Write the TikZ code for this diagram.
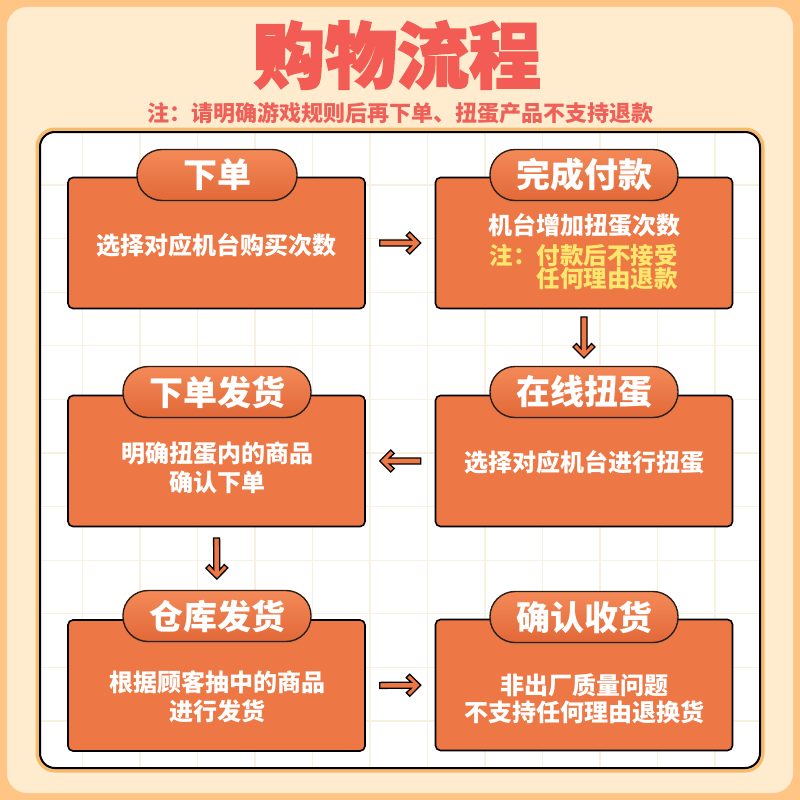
\documentclass[tikz,border=0pt]{standalone}
\usepackage{fontspec}
\newfontfamily\cjk{Noto Sans CJK SC}
\newfontfamily\cjktitle{Noto Sans CJK SC}[BoldFeatures={FakeBold=2.5}]
\usepackage{tikz}
\usetikzlibrary{shadows, positioning}

\definecolor{outerbg}{RGB}{255,197,133}
\definecolor{cream}{RGB}{255,236,206}
\definecolor{ring}{RGB}{246,186,110}
\definecolor{gridline}{RGB}{247,241,226}
\definecolor{boxor}{RGB}{237,120,69}
\definecolor{tabtop}{RGB}{244,138,88}
\definecolor{tabbot}{RGB}{226,104,56}
\definecolor{tabline}{RGB}{45,30,22}
\definecolor{titlered}{RGB}{242,92,84}
\definecolor{notered}{RGB}{238,96,88}
\definecolor{noteyellow}{RGB}{255,231,110}

\begin{document}
\begin{tikzpicture}[x=1pt, y=-1pt,
    stepbox/.style={rectangle, draw=black, line width=1.6pt, fill=boxor, rounded corners=5pt,
        minimum width=297pt, minimum height=131pt, inner sep=0pt},
    tab/.style={rectangle, draw=tabline, line width=1.4pt, top color=tabtop, bottom color=tabbot,
        rounded corners=25pt, minimum height=51pt, inner sep=0pt, text=white,
        font=\cjk\bfseries\fontsize{34}{34}\selectfont,
        drop shadow={shadow xshift=0pt, shadow yshift=-2pt, opacity=0.2}},
    body/.style={text=white, align=center, inner sep=0pt,
        font=\cjk\bfseries\fontsize{24}{29}\selectfont},
    flowarrow/.pic={
        \filldraw[fill=boxor, draw=black, line width=1.3pt, line join=miter]
            (20.5pt,0pt) -- (9.5pt,11pt) -- (6pt,7.5pt) -- (11pt,3pt) -- (-20.5pt,3pt)
            -- (-20.5pt,-3pt) -- (11pt,-3pt) -- (6pt,-7.5pt) -- (9.5pt,-11pt) -- cycle;
    },
    flow/.style={pos=0.5, sloped, allow upside down}
]
    \useasboundingbox (0,0) rectangle (800,800);

    % background and panel
    \fill[outerbg] (0,0) rectangle (800,800);
    \fill[cream, rounded corners=20pt] (7,7) rectangle (793,793);
    \draw[ring, line width=9pt, rounded corners=15pt] (40,132) rectangle (760,768);
    \fill[white, rounded corners=15pt] (40,132) rectangle (760,768);
    \begin{scope}
        \clip[rounded corners=15pt] (40,132) rectangle (760,768);
        \foreach \gx in {82.5,140,...,760}
            \draw[gridline, line width=1.2pt] (\gx,132) -- (\gx,768);
        \foreach \gy in {185,238.6,...,768}
            \draw[gridline, line width=1.2pt] (40,\gy) -- (760,\gy);
    \end{scope}
    \draw[black, line width=2pt, rounded corners=15pt] (40,132) rectangle (760,768);

    % title
    \node[text=titlered, font=\cjktitle\bfseries\fontsize{72}{72}\selectfont]
        (title) at (397,55) {购物流程};
    \node[text=notered, font=\cjk\bfseries\fontsize{22}{22}\selectfont]
        (note) at (400,113) {注：请明确游戏规则后再下单、扭蛋产品不支持退款};

    % boxes
    \node[stepbox] (order) at (216.5,243) {};
    \node[stepbox] (pay) at (584,243) {};
    \node[stepbox] (confirm) at (216.5,461) {};
    \node[stepbox] (spin) at (584,461) {};
    \node[stepbox] (ship) at (216.5,685.5) {};
    \node[stepbox] (recv) at (584,685) {};

    % tabs
    \node[tab, minimum width=160pt] (ordertab) at (217,175) {下单};
    \node[tab, minimum width=188pt] (paytab) at (584,175) {完成付款};
    \node[tab, minimum width=188pt] (confirmtab) at (217,392) {下单发货};
    \node[tab, minimum width=188pt] (spintab) at (584,392) {在线扭蛋};
    \node[tab, minimum width=188pt] (shiptab) at (217,616) {仓库发货};
    \node[tab, minimum width=188pt] (recvtab) at (584,617) {确认收货};

    % texts
    \node[body] (ordertxt) at (216,245) {选择对应机台购买次数};
    \node[body] (paytxt) at (584,225) {机台增加扭蛋次数};
    \node[body, text=noteyellow, align=right, anchor=east,
        font=\cjk\bfseries\fontsize{23.5}{22}\selectfont]
        (paynote) at (678,267) {注：付款后不接受\\任何理由退款};
    \node[body] (confirmtxt) at (217,467.5) {明确扭蛋内的商品\\确认下单};
    \node[body] (spintxt) at (584,462) {选择对应机台进行扭蛋};
    \node[body] (shiptxt) at (217,697) {根据顾客抽中的商品\\进行发货};
    \node[body, font=\cjk\bfseries\fontsize{24}{26.5}\selectfont]
        (recvtxt) at (584,699) {非出厂质量问题\\不支持任何理由退换货};

    % arrows
    \path (order.east) -- (pay.west) pic[flow] {flowarrow};
    \path (pay.south) -- (spintab.north) pic[flow] {flowarrow};
    \path (spin.west) -- (confirm.east) pic[flow] {flowarrow};
    \path (confirm.south) -- (shiptab.north) pic[flow] {flowarrow};
    \path (ship.east) -- (recv.west) pic[flow] {flowarrow};
\end{tikzpicture}
\end{document}
